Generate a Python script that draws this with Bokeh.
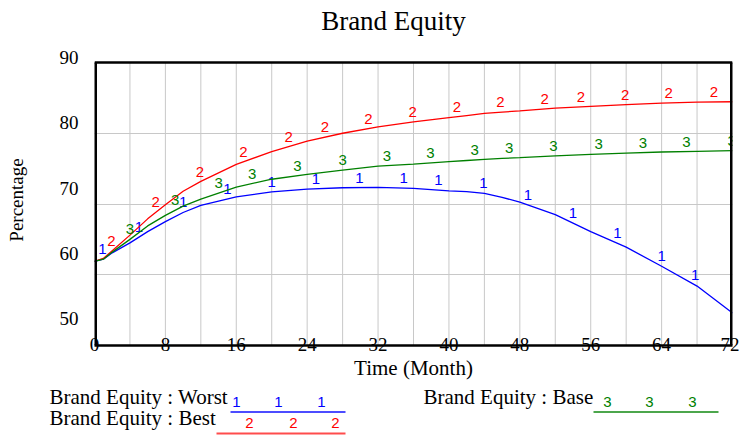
import numpy as np
from bokeh.plotting import figure
from bokeh.models import Range1d, FixedTicker, LinearAxis, Grid
from bokeh.embed import file_html
from bokeh.resources import INLINE
from bokeh.core.properties import value

# ---------------- data ----------------
title_text = "Brand Equity"
x_title = "Time (Month)"
y_title = "Percentage"

months = [0, 1, 2, 4, 6, 8, 10, 12, 16, 20, 24, 28, 32, 36, 40, 42, 44, 46, 48, 52, 56, 60, 64, 68, 72]
worst = [61.9, 62.2, 63.1, 64.5, 66.1, 67.5, 68.8, 69.8, 71.0, 71.7, 72.1, 72.3, 72.35, 72.2,
         71.85, 71.75, 71.5, 70.95, 70.25, 68.5, 66.1, 63.9, 61.2, 58.4, 54.6]
best = [61.9, 62.3, 63.4, 65.6, 67.9, 69.9, 71.8, 73.2, 75.6, 77.4, 78.9, 80.0, 80.9, 81.6,
        82.2, 82.5, 82.8, 83.0, 83.15, 83.55, 83.8, 84.05, 84.25, 84.4, 84.45]
base = [61.9, 62.2, 63.2, 65.0, 66.9, 68.4, 69.7, 70.7, 72.4, 73.5, 74.2, 74.8, 75.35, 75.65,
        76.0, 76.15, 76.3, 76.45, 76.55, 76.8, 77.0, 77.2, 77.35, 77.45, 77.55]

# months at which the series number markers are written
worst_marks = [0.9, 5.0, 10.0, 15.0, 20.0, 25.0, 29.9, 34.9, 38.8, 43.9, 48.9, 54.0, 59.0, 64.0, 67.8]
best_marks = [1.9, 6.9, 11.9, 16.8, 21.9, 26.0, 30.9, 35.9, 40.9, 45.8, 50.8, 54.9, 59.9, 64.8, 69.9]
base_marks = [4.0, 9.1, 14.0, 17.8, 22.9, 28.0, 33.0, 37.9, 42.9, 46.8, 51.8, 56.9, 61.9, 66.8, 71.9]

series_names = ["Brand Equity : Worst", "Brand Equity : Best", "Brand Equity : Base"]
series_ids = ["1", "2", "3"]

x_ticks = [0, 8, 16, 24, 32, 40, 48, 56, 64, 72]
x_grid = [4, 8, 12, 16, 20, 24, 28, 32, 36, 40, 44, 48, 52, 56, 60, 64, 68]
y_tick_labels = [50, 60, 70, 80, 90]
y_grid = [60, 70, 80]
x_min, x_max = 0, 72
y_min, y_max = 50, 90

# ---------------- style / layout ----------------
SERIF = "Liberation Serif"
SANS = "Liberation Sans"
COLORS = ["#0000ff", "#ff0000", "#008000"]
GRID = "#c8c8c8"

W = 739
HEAD_H = 44                         # strip holding the title
H = 339                             # main chart
LEG_H = 52                          # legend strip
B_LEFT, B_RIGHT, B_TOP, B_BOTTOM = 94, 7, 10, 38
FRAME_H = H - B_TOP - B_BOTTOM      # 291
EXTRA_TOP = 8                       # frame extends above the drawn box (room for "90")
BOX_H = FRAME_H - EXTRA_TOP         # 283
LABEL_STEP = 6.53                   # px between printed y numbers
LABEL_TOP_GAP = 3                   # px from frame top to the "90" label centre
px_unit = BOX_H / (y_max - y_min)
frame_top_val = y_max + EXTRA_TOP / px_unit
lbl_top = y_tick_labels[-1] + LABEL_TOP_GAP / LABEL_STEP
lbl_bot = y_tick_labels[-1] - (FRAME_H - LABEL_TOP_GAP) / LABEL_STEP


def strip(height):
    f = figure(width=W, height=height, x_range=Range1d(0, W), y_range=Range1d(height, 0),
               min_border=0, toolbar_location=None, output_backend="svg",
               x_axis_type=None, y_axis_type=None)
    f.outline_line_color = None
    f.grid.visible = False
    f.background_fill_color = "white"
    f.border_fill_color = "white"
    return f


# ---------------- title strip ----------------
head = strip(HEAD_H)
head.text(x=[393], y=[20], text=[title_text], text_font=value(SERIF), text_font_size="27px",
          text_color="black", text_align="center", text_baseline="alphabetic")

# ---------------- main chart ----------------
p = figure(width=W, height=H,
           min_border_left=B_LEFT, min_border_right=B_RIGHT,
           min_border_top=B_TOP, min_border_bottom=B_BOTTOM,
           x_range=Range1d(x_min, x_max), y_range=Range1d(y_min, frame_top_val),
           y_axis_location=None,
           output_backend="svg", toolbar_location=None)
p.background_fill_color = "white"
p.border_fill_color = "white"
p.outline_line_color = None

# x axis
xa = p.xaxis[0]
xa.ticker = FixedTicker(ticks=x_ticks)
xa.major_tick_in = 0
xa.major_tick_out = 0
xa.minor_tick_line_color = None
xa.axis_line_color = "black"
xa.axis_line_width = 2.5
xa.major_label_standoff = -8
xa.major_label_text_font = SERIF
xa.major_label_text_font_size = "19px"
xa.major_label_text_color = "black"
xa.axis_label = x_title
xa.axis_label_text_font = SERIF
xa.axis_label_text_font_size = "21px"
xa.axis_label_text_font_style = "normal"
xa.axis_label_text_color = "black"
xa.axis_label_standoff = 2
p.xgrid.visible = False

# y numbers on their own scale (as printed in the original)
p.extra_y_ranges = {"lbl": Range1d(lbl_bot, lbl_top)}
ya = LinearAxis(y_range_name="lbl", ticker=FixedTicker(ticks=y_tick_labels))
ya.axis_line_color = None
ya.major_tick_line_color = None
ya.minor_tick_line_color = None
ya.major_label_standoff = 10
ya.major_label_text_font = SERIF
ya.major_label_text_font_size = "19px"
ya.major_label_text_color = "black"
ya.axis_label = y_title
ya.axis_label_text_font = SERIF
ya.axis_label_text_font_size = "19px"
ya.axis_label_text_font_style = "normal"
ya.axis_label_text_color = "black"
ya.axis_label_standoff = 30
p.add_layout(ya, "left")

p.add_layout(Grid(dimension=1, ticker=FixedTicker(ticks=y_grid),
                  grid_line_color=GRID, grid_line_width=1))
p.segment(x0=x_grid, y0=[y_min] * len(x_grid), x1=x_grid, y1=[y_max] * len(x_grid),
          line_color=GRID, line_width=1)

for vals, marks, sid, col in zip([worst, best, base], [worst_marks, best_marks, base_marks],
                                 series_ids, COLORS):
    p.line(months, vals, line_color=col, line_width=1.3)
    p.text(x=marks, y=list(np.interp(marks, months, vals)), text=[sid] * len(marks),
           text_color=col, text_font=value(SANS), text_font_size="15px",
           text_align="center", text_baseline="middle", y_offset=-10)

# box: top edge, left and right edges (bottom is the x axis line)
p.segment(x0=[x_min], y0=[y_max], x1=[x_max], y1=[y_max], line_color="black", line_width=2.5)
p.segment(x0=[x_min, x_max], y0=[y_min, y_min], x1=[x_min, x_max], y1=[y_max, y_max],
          line_color="black", line_width=5)

# ---------------- legend strip ----------------
leg = strip(LEG_H)
leg_layout = [
    dict(tx=49, ty=13, x0=230, x1=345, ly=28.5, mx=[236, 278, 321], my=18.5),
    dict(tx=49, ty=34, x0=216, x1=345, ly=50, mx=[249, 293, 335], my=39.5),
    dict(tx=423, ty=13, x0=593, x1=718, ly=28.5, mx=[607, 649, 692], my=18),
]
for name, sid, col, L in zip(series_names, series_ids, COLORS, leg_layout):
    leg.text(x=[L["tx"]], y=[L["ty"]], text=[name], text_font=value(SERIF),
             text_font_size="21px", text_color="black", text_align="left", text_baseline="middle")
    leg.segment(x0=[L["x0"]], y0=[L["ly"]], x1=[L["x1"]], y1=[L["ly"]],
                line_color=col, line_width=2, line_alpha=0.7)
    leg.text(x=L["mx"], y=[L["my"]] * 3, text=[sid] * 3, text_font=value(SANS),
             text_font_size="15px", text_color=col, text_align="center", text_baseline="middle")

open("out.html", "w").write(file_html([head, p, leg], INLINE))
